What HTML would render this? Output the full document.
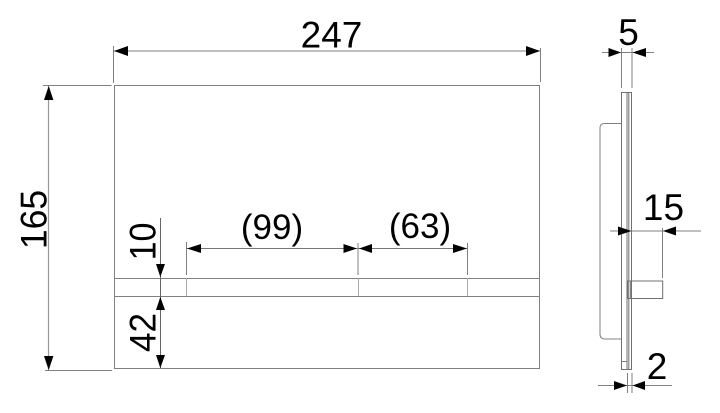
<!DOCTYPE html>
<html><head><meta charset="utf-8"><style>
html,body{margin:0;padding:0;background:#fff;width:720px;height:413px;overflow:hidden}
svg{display:block}
text{font-family:"Liberation Sans",sans-serif;fill:#000}
</style></head><body>
<svg width="720" height="413" viewBox="0 0 720 413" xmlns="http://www.w3.org/2000/svg">
<g fill="none" stroke="#808080" stroke-width="1">
<rect x="114.5" y="85.5" width="425" height="283"/>
<path d="M114 278.5H540M114 296.5H540"/>
<path d="M186.5 278V296M358.5 278V296M467.5 278V296" stroke="#aaa"/>
<path d="M43 85.5H111.5M45 370.5H112" />
<path d="M113.500 46V83M540.500 48V82"/>
<path d="M114 51H540M48.500 86V370" stroke="#999" stroke-width="1.2"/>
<path d="M160.500 218V368" stroke="#666"/>
<path d="M187 248.500H467" stroke="#777"/>
<path d="M186.500 242V275M358 243V275M467.500 243V275"/>
<path d="M602 52.500H654M621.500 48V88M632 48V88"/>
<path d="M610 231H701M662.500 228V278"/>
<path d="M598 385.500H672M627.500 373V393M632 373V393"/>
<path d="M621.500 92.500H631.500V369.500H621.500ZM627 92.500V369.500M628.800 92.500V369.500" stroke="#707070"/>
<path d="M621.500 361.500H627M621.500 123.500H604.500Q600 123.500 600 128V334Q600 339 605 339H621.500" />
<rect x="627.700" y="281" width="35" height="17.500" stroke="#707070"/>
<path d="M630.500 281V298" stroke="#888"/>
</g>
<g fill="#000">
<path d="M114 51L128 46V56Z"/><path d="M540 51L526 46V56Z"/>
<path d="M48.700 86L44 100H53.400Z"/><path d="M48.700 370L44 356H53.400Z"/>
<path d="M160.300 277L156 264H165Z"/><path d="M160.300 297L156 310H165Z"/><path d="M160.300 368L156 355H165Z"/>
<path d="M187 248.500L201 244V253Z"/><path d="M357 248.500L343.500 244V253Z"/>
<path d="M359 248.500L372 244V253Z"/><path d="M467 248.500L453 244V253Z"/>
<path d="M621 52.500L608.500 48V57Z"/><path d="M632.500 52.500L646 48V57Z"/>
<path d="M631.500 231L618 226.500V235.500Z"/><path d="M663 231L676 226.500V235.500Z"/>
<path d="M627 385.500L614 381V390Z"/><path d="M632.500 385.500L645 381V390Z"/>
</g>
<g font-size="37" text-anchor="middle">
<text x="331.500" y="47.500">247</text>
<text x="628.500" y="45">5</text>
<text x="663.500" y="220">15</text>
<text x="657" y="379">2</text>
<text x="272" y="239" font-size="35">(99)</text>
<text x="420" y="238" font-size="35">(63)</text>
<text transform="translate(46.700 219.500) rotate(-90) scale(.96 1)">165</text>
<text transform="translate(155.500 241.500) rotate(-90) scale(.92 1)">10</text>
<text transform="translate(155.500 332.500) rotate(-90) scale(.95 1)">42</text>
</g>
</svg>
</body></html>
